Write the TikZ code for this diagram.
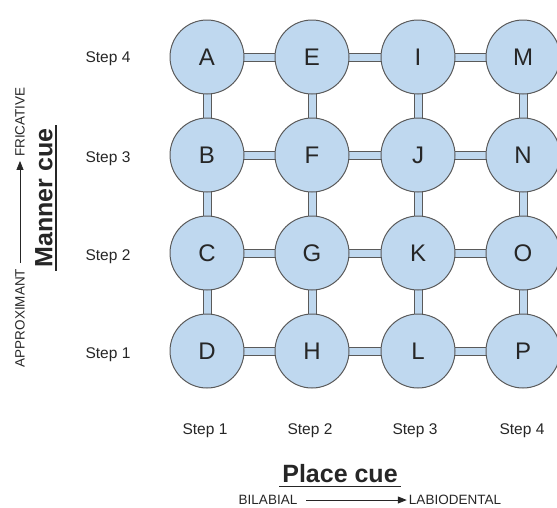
\documentclass[tikz,border=0pt]{standalone}
\usepackage{fontspec}
\setmainfont{Liberation Sans}
\usetikzlibrary{backgrounds,arrows.meta}
\definecolor{cfill}{HTML}{BFD8EF}
\definecolor{cline}{HTML}{5A5A5A}
\definecolor{ink}{HTML}{262626}
\tikzset{
  cell/.style={circle, draw=cline, line width=1pt, fill=cfill, minimum size=74pt, inner sep=0pt,
    font=\fontsize{24}{24}\selectfont, text=ink},
  bar/.style={draw=cline, line width=1pt, double=cfill, double distance=7pt},
  steplbl/.style={font=\fontsize{15.5}{16}\selectfont, text=ink},
  cue/.style={font=\fontsize{25}{25}\selectfont\bfseries, text=ink, inner sep=3pt},
  endlbl/.style={font=\fontsize{13.5}{14}\selectfont, text=ink, inner sep=0pt},
  arr/.style={draw=ink, line width=0.8pt, -{Triangle[length=9pt,width=7pt]}},
}
\begin{document}
\begin{tikzpicture}[x=1pt,y=-1pt]
\useasboundingbox (0,0) rectangle (557,507);
% circles
\node[cell] (A) at (207,57) {A};
\node[cell] (E) at (312,57) {E};
\node[cell] (I) at (418,57) {I};
\node[cell] (M) at (523,57) {M};
\node[cell] (B) at (207,155) {B};
\node[cell] (F) at (312,155) {F};
\node[cell] (J) at (418,155) {J};
\node[cell] (N) at (523,155) {N};
\node[cell] (C) at (207,253) {C};
\node[cell] (G) at (312,253) {G};
\node[cell] (K) at (418,253) {K};
\node[cell] (O) at (523,253) {O};
\node[cell] (D) at (207,351) {D};
\node[cell] (H) at (312,351) {H};
\node[cell] (L) at (418,351) {L};
\node[cell] (P) at (523,351) {P};
\begin{pgfonlayer}{background}
\foreach \a/\b in {A/E,E/I,I/M,B/F,F/J,J/N,C/G,G/K,K/O,D/H,H/L,L/P,
                   A/B,B/C,C/D,E/F,F/G,G/H,I/J,J/K,K/L,M/N,N/O,O/P}
  \draw[bar] (\a.center) -- (\b.center);
\end{pgfonlayer}
% row labels
\node[steplbl] (r4) at (108,59) {Step 4};
\node[steplbl] (r3) at (108,159) {Step 3};
\node[steplbl] (r2) at (108,257) {Step 2};
\node[steplbl] (r1) at (108,355) {Step 1};
% column labels
\node[steplbl] (c1) at (205,431) {Step 1};
\node[steplbl] (c2) at (310,431) {Step 2};
\node[steplbl] (c3) at (415,431) {Step 3};
\node[steplbl] (c4) at (522,431) {Step 4};
% manner cue
\node[cue, rotate=90] (mc) at (44,198) {Manner cue};
\draw[ink, line width=1.3pt] (mc.south west) -- (mc.south east);
\node[endlbl, rotate=90] (approx) at (20,318) {APPROXIMANT};
\node[endlbl, rotate=90] (fric) at (20,122) {FRICATIVE};
\draw[arr, shorten <=6pt, shorten >=4pt] (approx) -- (fric);
% place cue
\node[cue] (pc) at (340,474) {Place cue};
\draw[ink, line width=1.3pt] (pc.south west) -- (pc.south east);
\node[endlbl] (bil) at (268,500) {BILABIAL};
\node[endlbl] (lab) at (455,500) {LABIODENTAL};
\draw[arr, shorten <=9pt, shorten >=2pt] (bil) -- (lab);
\end{tikzpicture}
\end{document}
